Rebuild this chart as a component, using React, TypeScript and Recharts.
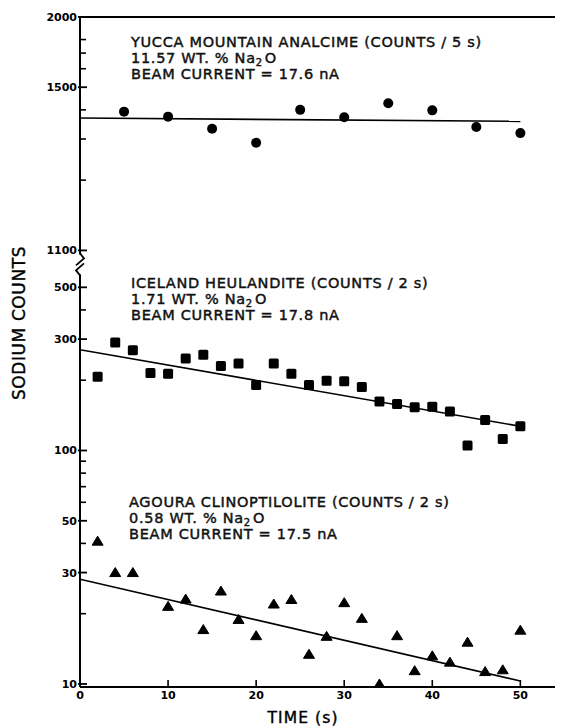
import { ScatterChart, Scatter, XAxis, YAxis, ReferenceLine, Label } from 'recharts';

// top panel (1100-2000) is a log scale of (counts - 1000), shifted up past the break
const BREAK_SHIFT = 0.857;
const toY = (v: number) => (v >= 1000 ? Math.log10(v - 1000) + BREAK_SHIFT : Math.log10(v));

// Yucca Mountain analcime (counts / 5 s)
const yuccaTime = [5, 10, 15, 20, 25, 30, 35, 40, 45, 50];
const yuccaCounts = [1393, 1374, 1332, 1289, 1400, 1372, 1427, 1398, 1338, 1318];
const yuccaFit = [1369, 1357];

// Iceland heulandite (counts / 2 s)
const icelandTime = [2, 4, 6, 8, 10, 12, 14, 16, 18, 20, 22, 24, 26, 28, 30, 32, 34, 36, 38, 40, 42, 44, 46, 48, 50];
const icelandCounts = [207, 290, 269, 215, 213, 248, 257, 230, 236, 191, 236, 213, 191, 199, 198, 187, 162, 158, 153, 154, 147, 105, 135, 112, 127];
const icelandFit = [270, 127];

// Agoura clinoptilolite (counts / 2 s)
const agouraTime = [2, 4, 6, 10, 12, 14, 16, 18, 20, 22, 24, 26, 28, 30, 32, 34, 36, 38, 40, 42, 44, 46, 48, 50];
const agouraCounts = [40.9, 30, 30, 21.5, 23.1, 17.1, 25, 18.9, 16.1, 22, 23, 13.4, 16, 22.3, 19.1, 10, 16.1, 11.4, 13.2, 12.4, 15.1, 11.3, 11.5, 17];
const agouraFit = [28.1, 10.3];

const fitTime = [0, 50];

const xTicks = [0, 10, 20, 30, 40, 50];
const yMajor = [10, 30, 50, 100, 300, 500, 1100, 1500, 2000];
const yMinor = [20, 40, 60, 70, 80, 90, 200, 400, 1200, 1300, 1400, 1600, 1700, 1800];

const noteTitles = [
  'YUCCA MOUNTAIN ANALCIME (COUNTS / 5 s)',
  'ICELAND HEULANDITE (COUNTS / 2 s)',
  'AGOURA CLINOPTILOLITE (COUNTS / 2 s)',
];
const notePct = ['11.57', '1.71', '0.58'];
const noteBeam = ['17.6', '17.8', '17.5'];

const toPoints = (t: number[], c: number[]) => t.map((x, i) => ({ t: x, y: toY(c[i]) }));

const yuccaData = toPoints(yuccaTime, yuccaCounts);
const icelandData = toPoints(icelandTime, icelandCounts);
const agouraData = toPoints(agouraTime, agouraCounts);

const FONT = '"DejaVu Sans", sans-serif';
// axis positions inside the svg (YAxis width, plot bottom)
const AXIS_X = 72;
const AXIS_Y = 679;

const Dot = (p: any) => <circle cx={p.cx} cy={p.cy} r={5} fill="#000" />;
const Box = (p: any) => <rect x={p.cx - 5} y={p.cy - 5} width={10} height={10} rx={1.5} fill="#000" />;
const Tri = (p: any) => (
  <polygon
    points={`${p.cx},${p.cy - 5} ${p.cx - 5.5},${p.cy + 4} ${p.cx + 5.5},${p.cy + 4}`}
    fill="#000"
    stroke="#000"
    strokeWidth={1}
    strokeLinejoin="round"
  />
);
const NoMark = () => <g />;

const labelFor = (u: number) => {
  const m = yMajor.find((v) => Math.abs(toY(v) - u) < 1e-9);
  return m === undefined ? null : String(m);
};

const YTick = (props: any) => {
  const { y, payload } = props;
  const x = AXIS_X;
  const lab = labelFor(payload.value);
  if (lab === null) {
    return <line x1={x} x2={x + 6} y1={y} y2={y} stroke="#000" strokeWidth={1.6} />;
  }
  return (
    <g>
      <line x1={x - 2} x2={x + 7} y1={y} y2={y} stroke="#000" strokeWidth={1.8} />
      <text x={x - 3} y={y + 4} textAnchor="end" fontFamily={FONT} fontWeight="bold" fontSize={11} fill="#000">
        {lab}
      </text>
      {lab === '1100' && (
        <g>
          <rect x={x - 3} y={y + 4} width={6} height={20} fill="#fff" />
          <path
            d={`M${x},${y + 3} L${x + 4},${y + 8} L${x - 4},${y + 15} M${x + 4},${y + 13} L${x - 4},${y + 20} L${x},${y + 25}`}
            stroke="#000"
            strokeWidth={1.8}
            fill="none"
          />
        </g>
      )}
    </g>
  );
};

const XTick = (props: any) => {
  const { x, payload } = props;
  const y = AXIS_Y;
  return (
    <g>
      {payload.value !== 0 && <line x1={x} x2={x} y1={y - 7} y2={y + 1} stroke="#000" strokeWidth={1.6} />}
      <text x={x} y={y + 12} textAnchor="middle" fontFamily={FONT} fontWeight="bold" fontSize={11} fill="#000">
        {payload.value}
      </text>
    </g>
  );
};

const noteX = [123, 123, 121];
const noteY = [39, 280, 499];

const Note = ({ i }: { i: number }) => {
  const style = {
    fontFamily: FONT,
    fontSize: 14.5,
    letterSpacing: 0.7,
    fill: '#111',
    stroke: '#111',
    strokeWidth: 0.45,
  };
  return (
    <g>
      <text x={noteX[i]} y={noteY[i]} {...style}>
        {noteTitles[i]}
      </text>
      <text x={noteX[i]} y={noteY[i] + 16} {...style}>
        {`${notePct[i]} WT. % Na`}
        <tspan fontSize={10} dy={3}>
          2
        </tspan>
        <tspan dy={-3} dx={2}>
          O
        </tspan>
      </text>
      <text x={noteX[i]} y={noteY[i] + 32} {...style}>
        {`BEAM CURRENT  =  ${noteBeam[i]} nA`}
      </text>
    </g>
  );
};

export default function App() {
  return (
    <ScatterChart width={555} height={720} margin={{ top: 8, right: 3, bottom: 0, left: 0 }}>
      <XAxis
        type="number"
        dataKey="t"
        domain={[0, 54.5]}
        ticks={xTicks}
        interval={0}
        tickSize={0}
        tickMargin={0}
        tickLine={false}
        tick={<XTick />}
        height={41}
        axisLine={{ stroke: '#000', strokeWidth: 2.2 }}
        allowDataOverflow
      >
        <Label
          content={() => (
            <text
              x={295}
              y={715}
              textAnchor="middle"
              fontFamily={FONT}
              fontSize={15.5}
              letterSpacing={1.1}
              fill="#000"
              stroke="#000"
              strokeWidth={0.4}
            >
              TIME (s)
            </text>
          )}
        />
      </XAxis>
      <YAxis
        type="number"
        dataKey="y"
        domain={[0.987, 3.861]}
        ticks={[...yMajor, ...yMinor].map(toY).sort((a, b) => a - b)}
        interval={0}
        tickSize={0}
        tickMargin={0}
        tickLine={false}
        tick={<YTick />}
        width={72}
        axisLine={{ stroke: '#000', strokeWidth: 2 }}
        allowDataOverflow
      >
        <Label
          content={() => (
            <text
              x={11}
              y={315}
              transform="rotate(-90 11 315)"
              textAnchor="middle"
              dominantBaseline="central"
              fontFamily={FONT}
              fontSize={17}
              letterSpacing={0.6}
              fill="#000"
              stroke="#000"
              strokeWidth={0.4}
            >
              SODIUM COUNTS
            </text>
          )}
        />
      </YAxis>
      <ReferenceLine y={toY(2000)} stroke="#000" strokeWidth={2} />

      <Scatter data={yuccaData} shape={<Dot />} isAnimationActive={false} />
      <Scatter data={icelandData} shape={<Box />} isAnimationActive={false} />
      <Scatter data={agouraData} shape={<Tri />} isAnimationActive={false} />

      <Scatter
        data={toPoints(fitTime, yuccaFit)}
        line={{ stroke: '#000', strokeWidth: 1.6 }}
        shape={<NoMark />}
        isAnimationActive={false}
      />
      <Scatter
        data={toPoints(fitTime, icelandFit)}
        line={{ stroke: '#000', strokeWidth: 1.6 }}
        shape={<NoMark />}
        isAnimationActive={false}
      />
      <Scatter
        data={toPoints(fitTime, agouraFit)}
        line={{ stroke: '#000', strokeWidth: 1.6 }}
        shape={<NoMark />}
        isAnimationActive={false}
      />

      <Note i={0} />
      <Note i={1} />
      <Note i={2} />
    </ScatterChart>
  );
}
